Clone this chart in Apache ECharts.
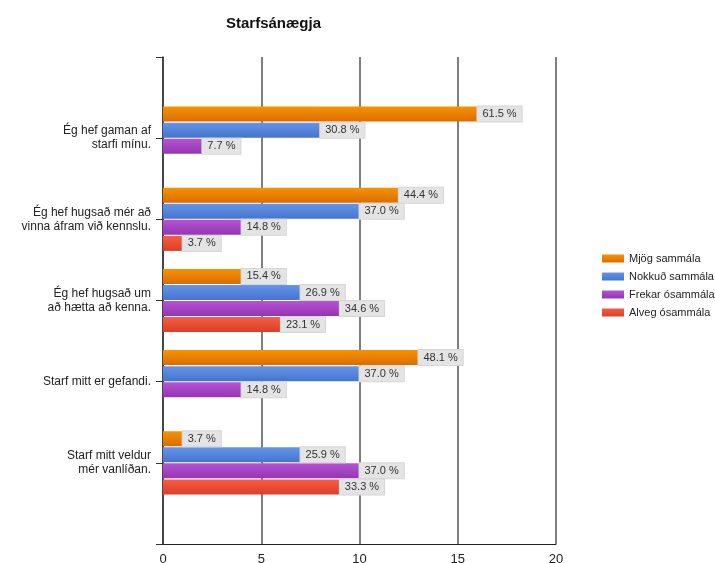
<!DOCTYPE html>
<html>
<head>
<meta charset="utf-8">
<script src="https://cdn.jsdelivr.net/npm/echarts@6/dist/echarts.min.js"></script>
<style>
  html, body { margin: 0; padding: 0; background: #fff; }
  #chart { width: 715px; height: 563px; }
</style>
</head>
<body>
<div id="chart"></div>
<script>
// categories (top to bottom)
var categories = [
    'Ég hef gaman af\nstarfi mínu.',
    'Ég hef hugsað mér að\nvinna áfram við kennslu.',
    'Ég hef hugsað um\nað hætta að kenna.',
    'Starf mitt er gefandi.',
    'Starf mitt veldur\nmér vanlíðan.'
];
var seriesNames = ['Mjög sammála', 'Nokkuð sammála', 'Frekar ósammála', 'Alveg ósammála'];

// counts (bar length)
var mjog = [16, 12, 4, 13, 1];
var nokkud = [8, 10, 7, 10, 7];
var frekar = [2, 4, 9, 4, 10];
var alveg = [null, 1, 6, null, 9];

// percent labels
var mjogPct = [61.5, 44.4, 15.4, 48.1, 3.7];
var nokkudPct = [30.8, 37.0, 26.9, 37.0, 25.9];
var frekarPct = [7.7, 14.8, 34.6, 14.8, 37.0];
var alvegPct = [null, 3.7, 23.1, null, 33.3];

var xTicks = { min: 0, max: 20, interval: 5 };

var colors = [
    ['#f59300', '#dc6c00'],
    ['#6495ea', '#4574cd'],
    ['#b654d4', '#9435b2'],
    ['#f45e44', '#dc3e26']
];

// empty slots at both ends so the bands sit like in the original
var yData = [''].concat(categories).concat(['']);
function pad(arr) {
    return [null].concat(arr).concat([null]);
}

function makeSeries(i, values, pcts) {
    return {
        name: seriesNames[i],
        type: 'bar',
        barWidth: 15,
        barGap: '7%',
        data: pad(values),
        itemStyle: {
            color: new echarts.graphic.LinearGradient(0, 0, 0, 1, [
                { offset: 0, color: colors[i][0] },
                { offset: 1, color: colors[i][1] }
            ])
        },
        label: {
            show: true,
            position: 'right',
            distance: 0,
            backgroundColor: '#e4e4e4',
            borderColor: '#d6d6d6',
            borderWidth: 1,
            padding: [2, 5, 1, 5],
            color: '#333',
            fontFamily: 'Liberation Sans',
            fontSize: 11,
            lineHeight: 12,
            formatter: function (p) {
                var v = pcts[p.dataIndex - 1];
                return v == null ? '' : v.toFixed(1) + ' %';
            }
        },
        emphasis: { disabled: true },
        animation: false
    };
}

var chart = echarts.init(document.getElementById('chart'));
var option = {
    animation: false,
    textStyle: { fontFamily: 'Liberation Sans' },
    title: {
        text: 'Starfsánægja',
        left: 221,
        top: 11,
        textStyle: { fontSize: 15, fontWeight: 'bold', color: '#111', fontFamily: 'Liberation Sans' }
    },
    legend: {
        orient: 'vertical',
        left: 597,
        top: 248,
        icon: 'rect',
        itemWidth: 22,
        itemHeight: 8,
        itemGap: 7,
        textStyle: { fontSize: 11, color: '#222', fontFamily: 'Liberation Sans' },
        data: seriesNames
    },
    grid: {
        left: 163,
        right: 159,
        top: 57,
        bottom: 19,
        containLabel: false,
        outerBoundsMode: 'none'
    },
    xAxis: {
        type: 'value',
        min: xTicks.min,
        max: xTicks.max,
        interval: xTicks.interval,
        axisLine: { show: true, lineStyle: { color: '#222', width: 1 } },
        axisTick: { show: false },
        axisLabel: { fontSize: 13, color: '#222', margin: 9 },
        splitLine: { show: true, lineStyle: { color: '#555', width: 1.5 } }
    },
    yAxis: {
        type: 'category',
        inverse: true,
        boundaryGap: false,
        data: yData,
        axisLine: { show: true, lineStyle: { color: '#333', width: 1.5 } },
        axisTick: { show: true, length: 7, interval: 0, lineStyle: { color: '#333', width: 1 } },
        axisLabel: {
            interval: 0,
            margin: 12,
            fontSize: 12,
            lineHeight: 14,
            color: '#222',
            align: 'right'
        },
        splitLine: { show: false }
    },
    series: [
        makeSeries(0, mjog, mjogPct),
        makeSeries(1, nokkud, nokkudPct),
        makeSeries(2, frekar, frekarPct),
        makeSeries(3, alveg, alvegPct)
    ]
};
chart.setOption(option);
</script>
</body>
</html>
